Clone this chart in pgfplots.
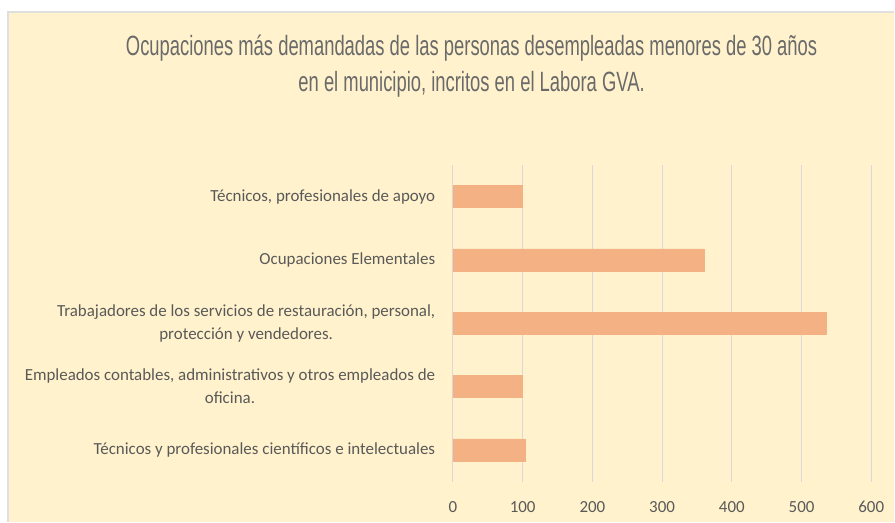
\documentclass[border=0pt]{standalone}
\usepackage{pgfplots}
\pgfplotsset{compat=1.18}
\usepackage{fontspec}
\setmainfont{Carlito}
\newfontfamily\titlefont[FakeStretch=0.66]{Liberation Sans}
\definecolor{bg}{HTML}{FFF2CC}
\definecolor{barc}{HTML}{F4B183}
\definecolor{labelc}{HTML}{595959}
\definecolor{titlec}{HTML}{6A6A6A}
\definecolor{gridc}{HTML}{D9D9D9}
\begin{document}
\begin{tikzpicture}[x=1bp,y=1bp]
\fill[white] (0,0) rectangle (895,522);
\fill[bg] (8,0) rectangle (895,510);
\draw[gray!25, line width=1.5bp] (8,0) -- (8,510) -- (895,510);
\node[font=\titlefont\fontsize{28}{36}\selectfont, text=titlec, align=center] at (472,456) {Ocupaciones más demandadas de las personas desempleadas menores de 30 años\\en el municipio, incritos en el Labora GVA.};
\begin{axis}[
  at={(453.3bp,40bp)}, anchor=south west,
  scale only axis, width=418.7bp, height=317bp,
  xbar, bar width=22bp,
  xmin=0, xmax=600, ymin=-0.5, ymax=4.5,
  xtick={0,100,...,600},
  ytick={0,1,2,3,4},
  yticklabels={Técnicos y profesionales científicos e intelectuales,
    {Empleados contables, administrativos y otros empleados de\\oficina.},
    {Trabajadores de los servicios de restauración, personal,\\protección y vendedores.},
    Ocupaciones Elementales,
    {Técnicos, profesionales de apoyo}},
  xmajorgrids, grid style={draw=gridc, line width=1bp},
  axis line style={draw=none},
  tick style={draw=none},
  /pgf/number format/assume math mode=true,
  tick label style={font=\fontsize{17}{23}\selectfont, text=labelc},
  yticklabel style={align=center, xshift=-10bp},
  xticklabel style={yshift=-16bp},
]
\addplot[fill=barc, draw=barc] coordinates {(104,0) (100,1) (535,2) (360,3) (100,4)};
\end{axis}
\end{tikzpicture}
\end{document}
